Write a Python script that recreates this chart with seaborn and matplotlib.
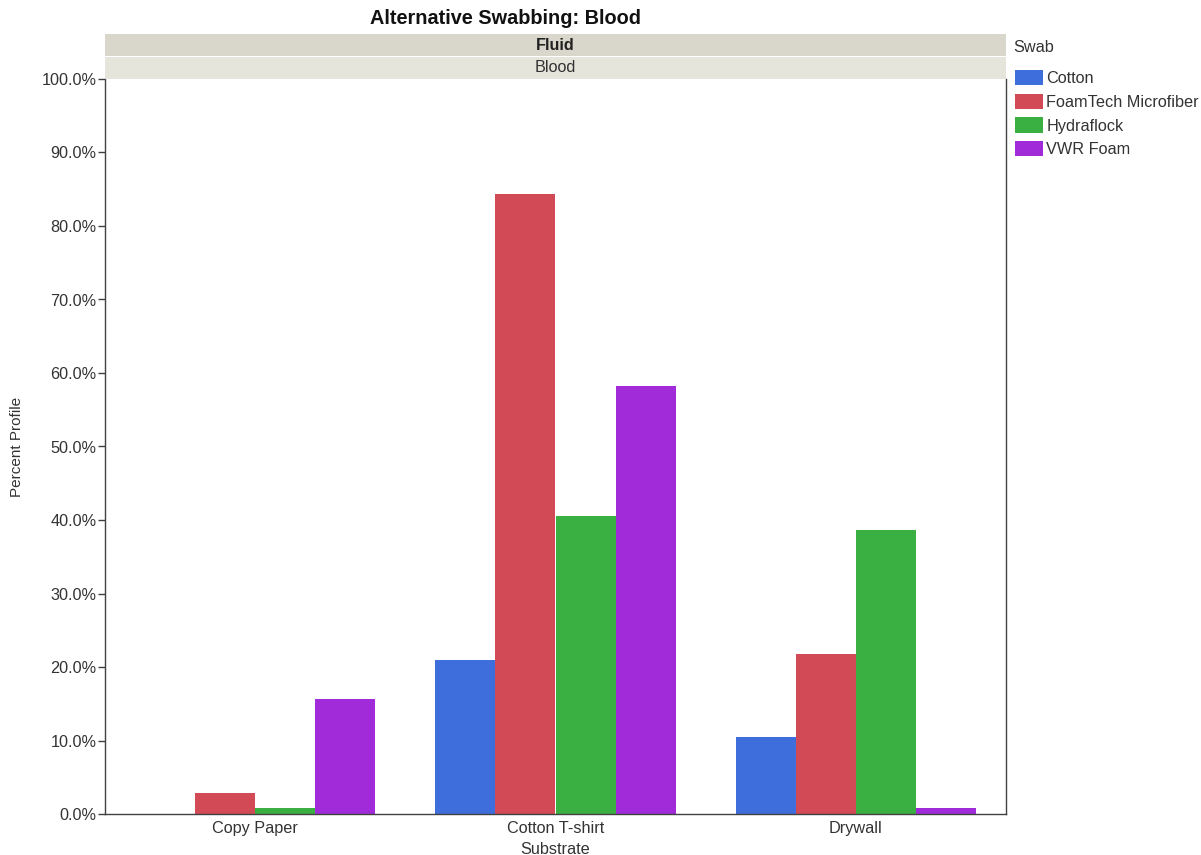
import numpy as np
import pandas as pd
import seaborn as sns
import matplotlib.pyplot as plt
from matplotlib.patches import Rectangle
from matplotlib.ticker import PercentFormatter

substrates = ["Copy Paper", "Cotton T-shirt", "Drywall"]
swabs = ["Cotton", "FoamTech Microfiber", "Hydraflock", "VWR Foam"]
# percent profile per swab, ordered like substrates
cotton = [0.0, 21.0, 10.5]
foamtech = [2.9, 84.4, 21.8]
hydraflock = [0.8, 40.5, 38.6]
vwr_foam = [15.6, 58.2, 0.8]

colors = ["#3E6EDC", "#D34A57", "#3AAF42", "#A22BD9"]

rows = []
for swab, vals in zip(swabs, [cotton, foamtech, hydraflock, vwr_foam]):
    for sub, v in zip(substrates, vals):
        rows.append({"Substrate": sub, "Swab": swab, "Percent": v})
df = pd.DataFrame(rows)

sns.set_style("white")
plt.rcParams['font.family'] = ['Liberation Sans', 'DejaVu Sans']

fs = 11.7
W, H = 1201, 855
fig = plt.figure(figsize=(W / 100, H / 100), dpi=100)
left, right, top, bottom = 105, 1006, 79, 814
ax = fig.add_axes([left / W, 1 - bottom / H, (right - left) / W, (bottom - top) / H])

sns.barplot(data=df, x="Substrate", y="Percent", hue="Swab", order=substrates,
            hue_order=swabs, palette=colors, width=0.8, saturation=1,
            errorbar=None, ax=ax, legend=False, linewidth=0, edgecolor="none")

ax.set_ylim(0, 100)
ax.set_yticks(np.arange(0, 101, 10))
ax.yaxis.set_major_formatter(PercentFormatter(xmax=100, decimals=1))
ax.tick_params(axis="y", length=5, width=1, color="#404040", labelsize=fs, labelcolor="#333333", pad=1, left=True)
ax.tick_params(axis="x", length=0, labelsize=fs, labelcolor="#333333", pad=5)
for s in ax.spines.values():
    s.set_color("#404040")
    s.set_linewidth(1)
ax.spines["top"].set_visible(False)
ax.set_xlabel("Substrate", fontsize=fs, color="#333333", labelpad=4)
ax.set_ylabel("Percent Profile", fontsize=fs - 0.7, color="#333333", labelpad=13)

# strip headers above the plot
fig.patches.append(Rectangle((left / W, 1 - 56 / H), (right - left) / W, 22 / H,
                             transform=fig.transFigure, facecolor="#D9D7CB", edgecolor="none"))
fig.patches.append(Rectangle((left / W, 1 - 79 / H), (right - left) / W, 22 / H,
                             transform=fig.transFigure, facecolor="#E6E5DC", edgecolor="none"))
cx = (left + right) / 2 / W
fig.text(cx, 1 - 45 / H, "Fluid", ha="center", va="center", fontsize=fs, fontweight="bold", color="#222222")
fig.text(cx, 1 - 68 / H, "Blood", ha="center", va="center", fontsize=fs, color="#333333")

fig.text(505 / W, 1 - 19 / H, "Alternative Swabbing: Blood", ha="center", va="center",
         fontsize=14.3, fontweight="bold", color="#111111")

# legend title placed separately to get the wider gap
fig.text(1013 / W, 1 - 48 / H, "Swab", ha="left", va="center", fontsize=fs, color="#333333")
handles = [Rectangle((0, 0), 1, 1, facecolor=c, edgecolor="none") for c in colors]
leg = fig.legend(handles, swabs, loc="upper left",
                 bbox_to_anchor=(1015 / W, 1 - 70 / H), frameon=False, fontsize=fs,
                 handlelength=1.72, handleheight=1.05,
                 handletextpad=0.2, labelspacing=0.47, borderaxespad=0, borderpad=0)
for t in leg.get_texts():
    t.set_color("#333333")

fig.savefig("out.png", dpi=100)
